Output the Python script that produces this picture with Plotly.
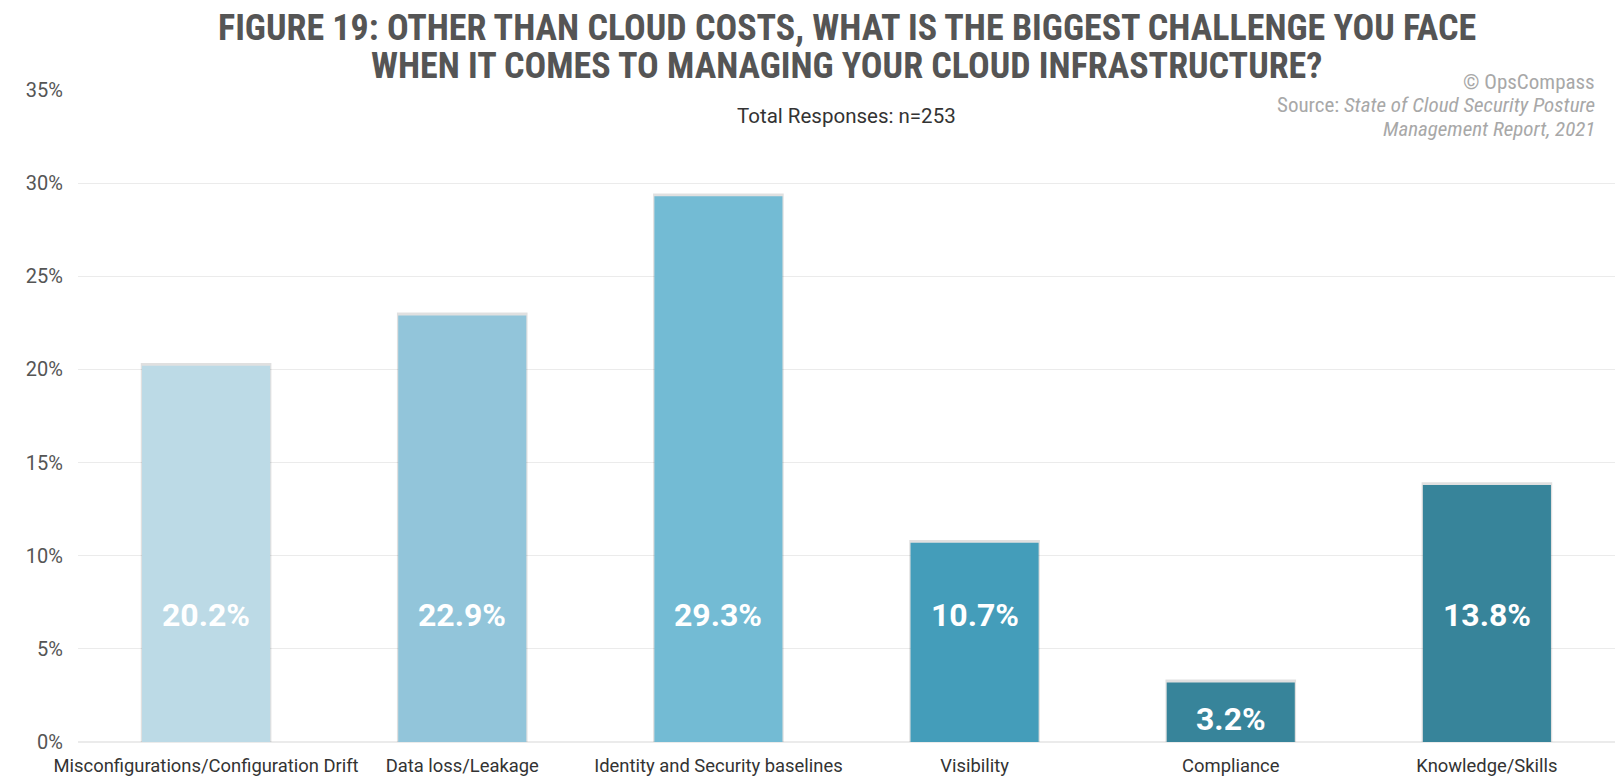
import plotly.graph_objects as go

# Survey results: biggest cloud-infrastructure challenge other than cost
categories = [
    "Misconfigurations/Configuration Drift",
    "Data loss/Leakage",
    "Identity and Security baselines",
    "Visibility",
    "Compliance",
    "Knowledge/Skills",
]
shares = [20.2, 22.9, 29.3, 10.7, 3.2, 13.8]
bar_colors = ["#BCDAE6", "#92C5DA", "#73BBD4", "#449DBA", "#37849A", "#37849A"]
y_ticks = [0, 5, 10, 15, 20, 25, 30, 35]
y_tick_labels = [f"{t}%" for t in y_ticks]
title_lines = [
    "FIGURE 19: OTHER THAN CLOUD COSTS, WHAT IS THE BIGGEST CHALLENGE YOU FACE",
    "WHEN IT COMES TO MANAGING YOUR CLOUD INFRASTRUCTURE?",
]

TITLE_FONT = "Roboto Condensed, Liberation Sans Narrow, DejaVu Sans Condensed, Roboto"
BODY_FONT = "Roboto, Liberation Sans, Arial"
LABEL_LEVEL = 6.8  # height (in %) where value labels sit inside tall bars

fig = go.Figure()

# soft drop shadow behind each bar
fig.add_trace(go.Bar(
    x=categories,
    y=[v + 0.15 for v in shares],
    marker=dict(color="rgba(0,0,0,0.12)", line=dict(width=0)),
    width=0.51,
    hoverinfo="skip",
    showlegend=False,
))

fig.add_trace(go.Bar(
    x=categories,
    y=shares,
    marker=dict(color=bar_colors, line=dict(width=0)),
    width=0.5,
    showlegend=False,
))

# value labels inside each bar
for cat, v in zip(categories, shares):
    label_y = LABEL_LEVEL if v > 2 * LABEL_LEVEL - 4 else 0.38 * v
    fig.add_annotation(
        x=cat, y=label_y, xref="x", yref="y",
        text=f"<b>{v:.1f}%</b>", showarrow=False,
        font=dict(family=BODY_FONT, size=32, color="white"),
        xanchor="center", yanchor="middle",
    )

# two-line heading
for i, line in enumerate(title_lines):
    fig.add_annotation(
        x=0.5, y=1.0945 - i * 0.0583, xref="paper", yref="paper",
        text=f"<b>{line}</b>", showarrow=False,
        font=dict(family=TITLE_FONT, size=36, color="#555555"),
        xanchor="center", yanchor="middle",
    )

fig.add_annotation(
    x=0.5, y=0.9595, xref="paper", yref="paper",
    text="Total Responses: n=253", showarrow=False,
    font=dict(family=BODY_FONT, size=20.5, color="#333333"),
    xanchor="center", yanchor="middle",
)

credit_lines = [
    "© OpsCompass",
    "Source: <i>State of Cloud Security Posture</i>",
    "<i>Management Report, 2021</i>",
]
for i, line in enumerate(credit_lines):
    fig.add_annotation(
        x=0.988, y=1.0126 - i * 0.0363, xref="paper", yref="paper",
        text=line, showarrow=False,
        font=dict(family=TITLE_FONT, size=21, color="#A8A8A8"),
        xanchor="right", yanchor="middle",
    )

fig.update_layout(
    width=1615, height=777,
    margin=dict(l=78, r=0, t=89.6, b=35.4),
    paper_bgcolor="white", plot_bgcolor="white",
    barmode="overlay",
    xaxis=dict(
        showgrid=False, showline=False, ticks="",
        tickfont=dict(family=BODY_FONT, size=18.4, color="#333333"),
        ticklabelstandoff=11,
    ),
    yaxis=dict(
        range=[0, 35], tickvals=y_ticks, ticktext=y_tick_labels,
        showgrid=True, gridcolor="#EBEBEB", gridwidth=1,
        zeroline=True, zerolinecolor="#EBEBEB", showline=False, ticks="",
        tickfont=dict(family=BODY_FONT, size=20, color="#555555"),
        ticklabelstandoff=14,
    ),
)

fig.write_html("out.html")
